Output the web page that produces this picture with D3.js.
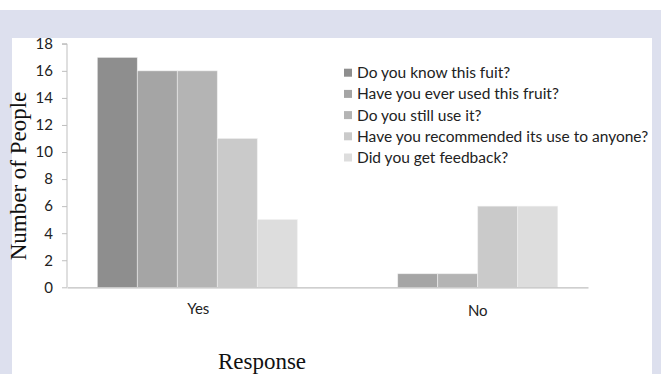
<!DOCTYPE html>
<html>
<head>
<meta charset="utf-8">
<script src="https://cdn.jsdelivr.net/npm/d3@7"></script>
<style>
  html, body { margin: 0; padding: 0; background: #ffffff; }
  svg { display: block; }
</style>
</head>
<body>
<svg id="chart" width="661" height="374"></svg>
<script>
// Survey responses per question, grouped by answer
const categories = ["Yes", "No"];
const seriesNames = [
  "Do you know this fuit?",
  "Have you ever used this fruit?",
  "Do you still use it?",
  "Have you recommended its use to anyone?",
  "Did you get feedback?"
];
const knowValues = [17, 0];
const usedValues = [16, 1];
const stillUseValues = [16, 1];
const recommendedValues = [11, 6];
const feedbackValues = [5, 6];
const yTicks = [0, 2, 4, 6, 8, 10, 12, 14, 16, 18];
const seriesColors = ["#8e8e8e", "#a5a5a5", "#b4b4b4", "#cacaca", "#dddddd"];

const seriesValues = [knowValues, usedValues, stillUseValues, recommendedValues, feedbackValues];

const svg = d3.select("#chart");
const W = 661, H = 374;

// page background: white strip, lavender frame, white panel
svg.append("rect").attr("x", 0).attr("y", 0).attr("width", W).attr("height", H).attr("fill", "#ffffff");
svg.append("rect").attr("x", 0).attr("y", 10).attr("width", W).attr("height", H - 10).attr("fill", "#dde0ee");
svg.append("rect").attr("x", 12).attr("y", 38).attr("width", 640).attr("height", H - 38).attr("fill", "#ffffff");

const plot = { left: 67, right: 588, top: 43.8, bottom: 287.3 };

const x0 = d3.scaleBand().domain(categories).range([plot.left, plot.right]).paddingInner(0).paddingOuter(0);
const groupWidth = 200;
const x1 = d3.scaleBand().domain(d3.range(seriesNames.length)).range([0, groupWidth]).padding(0);
const y = d3.scaleLinear().domain([0, 18]).range([plot.bottom, plot.top]);

// bars
categories.forEach((cat, ci) => {
  const gx = x0(cat) + (x0.bandwidth() - groupWidth) / 2;
  seriesValues.forEach((vals, si) => {
    const v = vals[ci];
    if (v <= 0) return;
    svg.append("rect")
      .attr("x", gx + x1(si))
      .attr("y", y(v))
      .attr("width", x1.bandwidth())
      .attr("height", y(0) - y(v))
      .attr("fill", seriesColors[si])
      .attr("stroke", "#efefef")
      .attr("stroke-width", 0.6);
  });
});

// y axis
const yAxis = d3.axisLeft(y).tickValues(yTicks).tickSize(5).tickPadding(9).tickFormat(d3.format("d"));
const gy = svg.append("g").attr("transform", `translate(${plot.left},0)`).call(yAxis);
gy.select(".domain").attr("stroke", "#bfbfbf").attr("d", `M-5,${plot.top}H0V${plot.bottom}`);
gy.selectAll(".tick line").attr("stroke", "#bfbfbf");
gy.selectAll(".tick text")
  .attr("font-family", "Lato, 'Open Sans', sans-serif")
  .attr("font-size", 15)
  .attr("fill", "#222");

// x axis
const xAxis = d3.axisBottom(x0).tickSize(0).tickPadding(16);
const gx = svg.append("g").attr("transform", `translate(0,${plot.bottom})`).call(xAxis);
gx.select(".domain").attr("stroke", "#bfbfbf").attr("stroke-width", 1.2);
gx.selectAll(".tick text")
  .attr("font-family", "Lato, 'Open Sans', sans-serif")
  .attr("font-size", 15)
  .attr("fill", "#222")
  .attr("dx", d => d === "No" ? 20 : 1)
  .attr("dy", d => d === "No" ? "0.85em" : "0.71em");

// axis titles
svg.append("text")
  .attr("x", 262).attr("y", 369)
  .attr("text-anchor", "middle")
  .attr("font-family", "'Liberation Serif', 'Times New Roman', serif")
  .attr("font-size", 23)
  .attr("fill", "#111")
  .text("Response");

svg.append("text")
  .attr("transform", "translate(26,176) rotate(-90)")
  .attr("text-anchor", "middle")
  .attr("font-family", "'Liberation Serif', 'Times New Roman', serif")
  .attr("font-size", 23)
  .attr("fill", "#111")
  .text("Number of People");

// legend
const legend = svg.append("g").attr("transform", "translate(344,72.7)");
seriesNames.forEach((name, i) => {
  const row = legend.append("g").attr("transform", `translate(0,${i * 21.2})`);
  row.append("rect").attr("x", 0).attr("y", -4).attr("width", 8).attr("height", 8).attr("fill", seriesColors[i]);
  row.append("text")
    .attr("x", 13).attr("y", 0).attr("dy", "0.35em")
    .attr("font-family", "Lato, 'Open Sans', sans-serif")
    .attr("font-size", 15.5)
    .attr("fill", "#222")
    .text(name);
});
</script>
</body>
</html>
